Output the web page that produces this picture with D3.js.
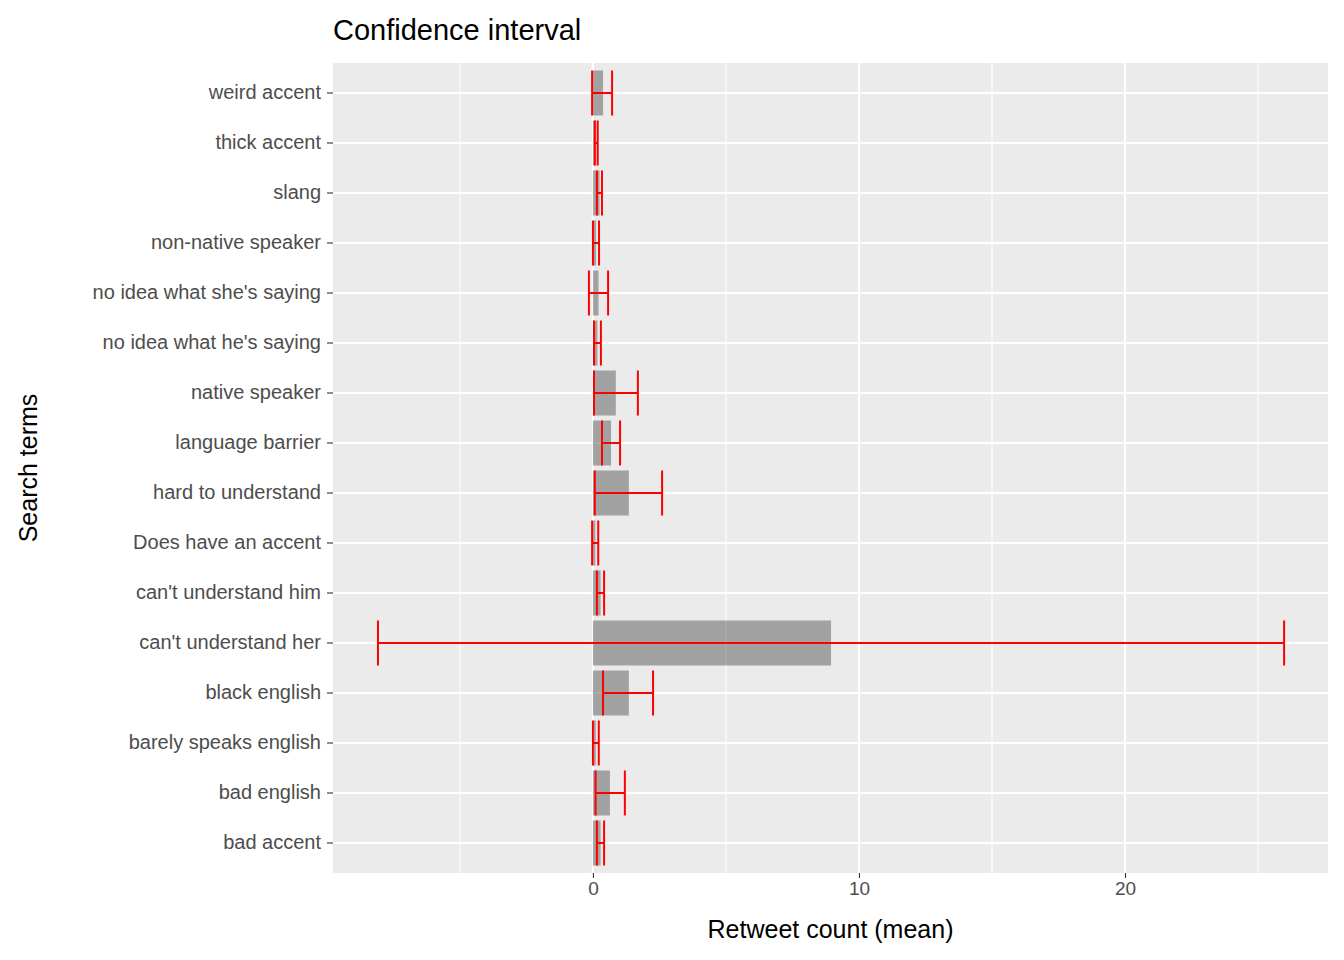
<!DOCTYPE html><html><head><meta charset="utf-8"><script src="https://d3js.org/d3.v7.min.js"></script>
<style>body{margin:0;background:#fff}text{font-family:"Liberation Sans",Arial,sans-serif}</style></head><body><svg id="c" width="1344" height="960"></svg><script>
const terms=["weird accent","thick accent","slang","non-native speaker","no idea what she's saying","no idea what he's saying","native speaker","language barrier","hard to understand","Does have an accent","can't understand him","can't understand her","black english","barely speaks english","bad english","bad accent"];
const means=[0.38,0.12,0.25,0.12,0.21,0.17,0.86,0.68,1.35,0.09,0.29,8.95,1.35,0.11,0.64,0.29];
const lows=[-0.03,0.07,0.15,0.0,-0.15,0.04,0.04,0.34,0.07,-0.03,0.15,-8.08,0.38,0.0,0.1,0.15];
const highs=[0.72,0.18,0.34,0.23,0.57,0.3,1.69,1.02,2.6,0.2,0.42,25.98,2.26,0.22,1.2,0.42];
const majorTicks=[0,10,20], minorTicks=[-5,5,15,25];
const svg=d3.select("#c");
const L=333,R=1328,T=63,B=873;
const x=d3.scaleLinear().domain([-9.77,27.63]).range([L,R]);
const y=d3.scaleBand().domain(terms).range([T,B]).paddingInner(0).paddingOuter(0.1);
const bw=y.step()*0.9, off=y.step()*0.05;
svg.append("rect").attr("x",L).attr("y",T).attr("width",R-L).attr("height",B-T).attr("fill","#EBEBEB");
minorTicks.forEach(t=>svg.append("line").attr("x1",x(t)).attr("x2",x(t)).attr("y1",T).attr("y2",B).attr("stroke","#fff").attr("stroke-width",1.1));
majorTicks.forEach(t=>svg.append("line").attr("x1",x(t)).attr("x2",x(t)).attr("y1",T).attr("y2",B).attr("stroke","#fff").attr("stroke-width",2.2));
terms.forEach(d=>svg.append("line").attr("x1",L).attr("x2",R).attr("y1",y(d)+y.step()/2).attr("y2",y(d)+y.step()/2).attr("stroke","#fff").attr("stroke-width",2.2));
terms.forEach((d,i)=>{
 const y0=y(d)+off;
 svg.append("rect").attr("x",x(0)).attr("y",y0).attr("width",x(means[i])-x(0)).attr("height",bw).attr("fill","#595959").attr("opacity",0.5);
});
terms.forEach((d,i)=>{
 const y0=y(d)+off, yc=y(d)+y.step()/2;
 const g=svg.append("g").attr("stroke","red").attr("stroke-width",2);
 g.append("line").attr("x1",x(lows[i])).attr("x2",x(highs[i])).attr("y1",yc).attr("y2",yc);
 g.append("line").attr("x1",x(lows[i])).attr("x2",x(lows[i])).attr("y1",y0).attr("y2",y0+bw);
 g.append("line").attr("x1",x(highs[i])).attr("x2",x(highs[i])).attr("y1",y0).attr("y2",y0+bw);
});
const ya=svg.append("g").attr("transform",`translate(${L},0)`).call(d3.axisLeft(y).tickSize(6).tickPadding(6).tickSizeOuter(0));
ya.select(".domain").remove();
ya.selectAll("line").attr("stroke","#333").attr("stroke-width",1.1);
ya.selectAll("text").attr("fill","#4D4D4D").style("font-size","20px");
const xa=svg.append("g").attr("transform",`translate(0,${B})`).call(d3.axisBottom(x).tickValues(majorTicks).tickSize(5).tickPadding(4).tickSizeOuter(0));
xa.select(".domain").remove();
xa.selectAll("line").attr("stroke","#333").attr("stroke-width",1.1);
xa.selectAll("text").attr("fill","#4D4D4D").style("font-size","19px");
svg.append("text").attr("x",333).attr("y",40).text("Confidence interval").style("font-size","29px");
svg.append("text").attr("x",(L+R)/2).attr("y",938).attr("text-anchor","middle").text("Retweet count (mean)").style("font-size","25px");
svg.append("text").attr("transform",`translate(37,${(T+B)/2}) rotate(-90)`).attr("text-anchor","middle").text("Search terms").style("font-size","25px");
</script></body></html>
